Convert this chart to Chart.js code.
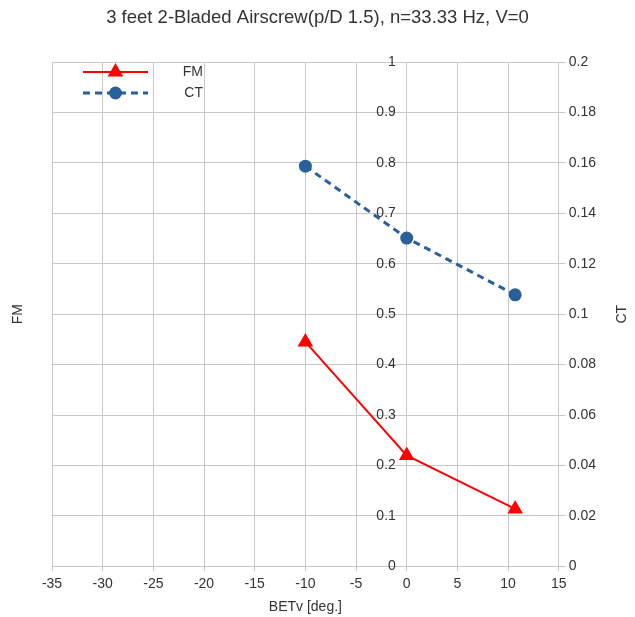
<!DOCTYPE html>
<html>
<head>
<meta charset="utf-8">
<script src="https://cdn.jsdelivr.net/npm/chart.js@4.4.1/dist/chart.umd.min.js"></script>
<style>
  html, body { margin: 0; padding: 0; background: #fff; }
  #wrap { width: 635px; height: 617px; }
</style>
</head>
<body>
<div id="wrap"><canvas id="grafico" width="635" height="617"></canvas></div>
<script>
const betv = [-10, 0, 10.7];
const valoresFM = [0.445, 0.22, 0.114];
const valoresCT = [0.1587, 0.1302, 0.1077];
const titulo = "3 feet 2-Bladed Airscrew(p/D 1.5), n=33.33 Hz, V=0";

const corGrade = "#c8c8c8";
const corTexto = "#333333";
const fonte = "'Liberation Sans', Arial, sans-serif";

function formatar(v) {
    return String(Number(v.toFixed(3)));
}

// titulo, titulos dos eixos y e legenda desenhados a mao
const extras = {
    id: "extras",
    afterDraw(chart) {
        const ctx = chart.ctx;
        const area = chart.chartArea;
        const meio = (area.top + area.bottom) / 2;

        ctx.save();
        ctx.fillStyle = corTexto;
        ctx.font = "18.5px " + fonte;
        ctx.textAlign = "center";
        ctx.textBaseline = "middle";
        ctx.fillText(titulo, chart.width / 2, 18);
        ctx.restore();

        [["FM", 18], ["CT", 622]].forEach(([txt, x]) => {
            ctx.save();
            ctx.fillStyle = corTexto;
            ctx.font = "14px " + fonte;
            ctx.textAlign = "center";
            ctx.textBaseline = "middle";
            ctx.translate(x, meio);
            ctx.rotate(-Math.PI / 2);
            ctx.fillText(txt, 0, 0);
            ctx.restore();
        });

        // legenda
        chart.data.datasets.forEach((ds, i) => {
            const y = area.top + 10 + i * 21;
            const x1 = area.left + 31, x2 = area.left + 96;
            ctx.save();
            ctx.strokeStyle = ds.borderColor;
            ctx.lineWidth = ds.borderWidth;
            ctx.setLineDash(ds.borderDash || []);
            ctx.beginPath();
            ctx.moveTo(x1, y);
            ctx.lineTo(x2, y);
            ctx.stroke();
            ctx.setLineDash([]);
            ctx.fillStyle = ds.backgroundColor;
            ctx.strokeStyle = ds.borderColor;
            Chart.helpers.drawPoint(ctx, {
                pointStyle: ds.pointStyle,
                radius: ds.pointRadius,
                borderWidth: 1
            }, (x1 + x2) / 2, y);
            ctx.fillStyle = corTexto;
            ctx.font = "14px " + fonte;
            ctx.textAlign = "right";
            ctx.textBaseline = "middle";
            ctx.fillText(ds.label, area.left + 151, y);
            ctx.restore();
        });
    }
};

function criarGrafico() {
    const canvas = document.getElementById("grafico");

    new Chart(canvas, {
        type: "line",
        data: {
            datasets: [
                {
                    label: "FM",
                    data: betv.map((x, i) => ({ x: x, y: valoresFM[i] })),
                    yAxisID: "y",
                    borderColor: "#ff0000",
                    backgroundColor: "#ff0000",
                    borderWidth: 2,
                    pointStyle: "triangle",
                    pointRadius: 7,
                    pointHoverRadius: 7,
                    tension: 0
                },
                {
                    label: "CT",
                    data: betv.map((x, i) => ({ x: x, y: valoresCT[i] })),
                    yAxisID: "y2",
                    borderColor: "#2a6099",
                    backgroundColor: "#2a6099",
                    borderWidth: 3,
                    borderDash: [7, 5],
                    pointStyle: "circle",
                    pointRadius: 5,
                    pointHoverRadius: 5,
                    tension: 0
                }
            ]
        },
        options: {
            responsive: false,
            animation: false,
            layout: { padding: { left: 52, right: 36, top: 62, bottom: 1 } },
            plugins: {
                legend: { display: false },
                tooltip: { enabled: false },
                title: { display: false }
            },
            scales: {
                x: {
                    type: "linear",
                    position: "bottom",
                    min: -35,
                    max: 15,
                    ticks: { stepSize: 5, color: corTexto, font: { family: fonte, size: 14 }, padding: 4 },
                    grid: { color: corGrade, tickLength: 5 },
                    border: { color: corGrade },
                    title: { display: true, text: "BETv [deg.]", color: corTexto, font: { family: fonte, size: 14 }, padding: { top: 3, bottom: 0 } }
                },
                y: {
                    type: "linear",
                    position: { x: 0 },
                    min: 0,
                    max: 1,
                    ticks: { stepSize: 0.1, color: corTexto, font: { family: fonte, size: 14 }, callback: v => formatar(v) + "\u2002 " },
                    grid: { color: corGrade, tickLength: 5 },
                    border: { color: corGrade }
                },
                y2: {
                    type: "linear",
                    position: "right",
                    min: 0,
                    max: 0.2,
                    ticks: { stepSize: 0.02, color: corTexto, font: { family: fonte, size: 14 }, padding: 3, callback: formatar },
                    grid: { drawOnChartArea: false, color: corGrade, tickLength: 7 },
                    border: { color: corGrade }
                }
            }
        },
        plugins: [extras]
    });
}

window.onload = criarGrafico;
</script>
</body>
</html>
